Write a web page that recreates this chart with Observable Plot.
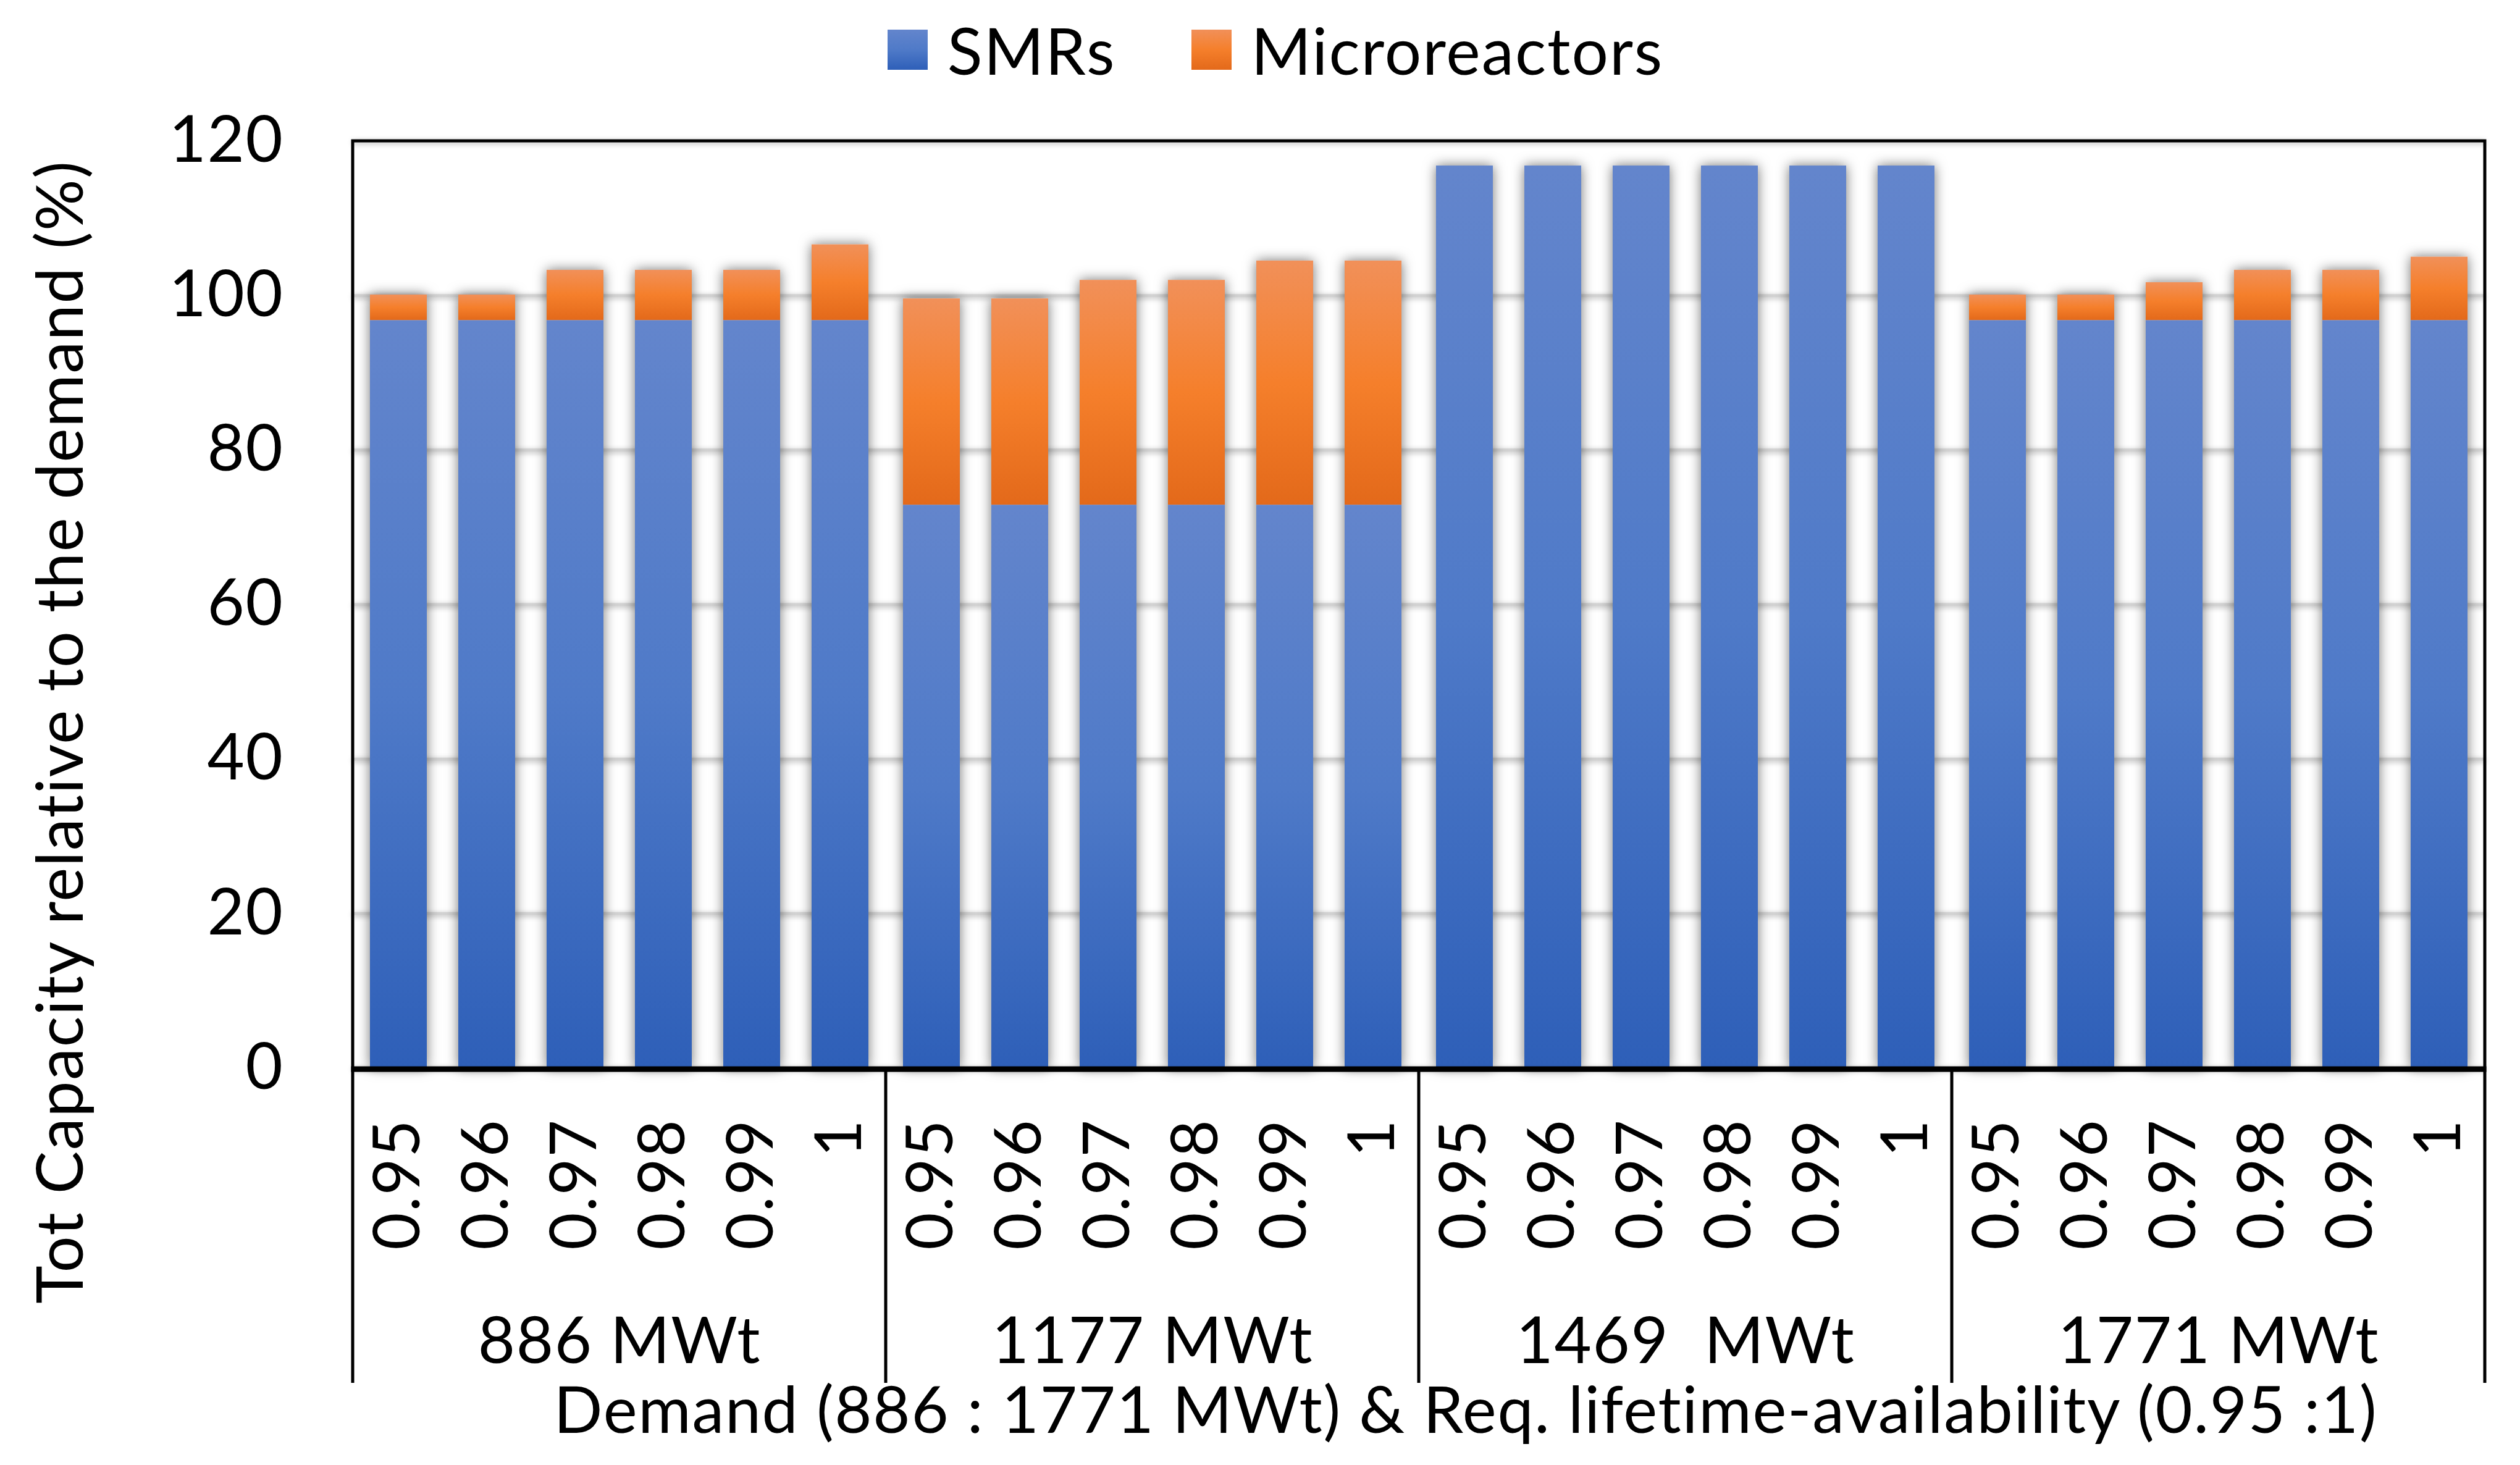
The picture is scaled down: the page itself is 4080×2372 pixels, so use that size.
<!DOCTYPE html>
<html>
<head>
<meta charset="utf-8">
<script src="https://cdn.jsdelivr.net/npm/d3@7"></script>
<script src="https://cdn.jsdelivr.net/npm/@observablehq/plot@0.6"></script>
<style>
  body { margin: 0; background: #fff; font-family: Lato, sans-serif; }
  #legend {
    height: 150px; box-sizing: border-box; padding-top: 10px; padding-left: 50px;
    display: flex; justify-content: center; align-items: center;
    font-size: 105px; letter-spacing: 2px; line-height: 1; color: #000;
  }
  #legend .sw { width: 65px; height: 65px; margin-right: 32px; }
  #legend .item { display: flex; align-items: center; margin-right: 122px; }
  #legend .item:last-child { margin-right: 0; }
  #chart svg text { letter-spacing: 1.7px; }
  g[aria-description="bar-shadow"] { filter: drop-shadow(0 0 10px rgba(0,0,0,0.55)); }
  g[aria-description="grid"] { filter: drop-shadow(0 2px 4px rgba(0,0,0,0.3)); }
</style>
</head>
<body>
<div id="legend">
  <div class="item"><div class="sw" style="background: linear-gradient(#6385cc, #4f7ac8, #2e5fb8)"></div><span>SMRs</span></div>
  <div class="item"><div class="sw" style="background: linear-gradient(#f19059, #f57f2b, #e3691a)"></div><span>Microreactors</span></div>
</div>
<div id="chart"></div>
<script>
// demand groups and required lifetime-availability under each
const demands = ["886 MWt", "1177 MWt", "1469\u00a0 MWt", "1771 MWt"]
const availability = ["0.95", "0.96", "0.97", "0.98", "0.99", "1"]

// total capacity relative to demand (%), one value per bar
const smrs = [
  96.8, 96.8, 96.8, 96.8, 96.8, 96.8,
  72.9, 72.9, 72.9, 72.9, 72.9, 72.9,
  116.8, 116.8, 116.8, 116.8, 116.8, 116.8,
  96.8, 96.8, 96.8, 96.8, 96.8, 96.8
]
const microreactors = [
  3.3, 3.3, 6.5, 6.5, 6.5, 9.8,
  26.7, 26.7, 29.1, 29.1, 31.6, 31.6,
  0, 0, 0, 0, 0, 0,
  3.3, 3.3, 4.9, 6.5, 6.5, 8.2
]
const yTicks = [0, 20, 40, 60, 80, 100, 120]

const rows = smrs.map((s, i) => {
  return {
    demand: demands[Math.floor(i / availability.length)],
    avail: availability[i % availability.length],
    smr: s,
    total: s + microreactors[i]
  }
})

let chart = Plot.plot({
  width: 4080,
  height: 2222,
  marginTop: 78,
  marginBottom: 643,
  marginLeft: 570,
  marginRight: 56,
  style: {fontFamily: "Lato, sans-serif", fontSize: "104px", color: "#000", background: "transparent"},
  fx: {domain: demands, padding: 0, label: null},
  x: {domain: availability, paddingInner: 0.36, paddingOuter: 0.18, label: null},
  y: {domain: [0, 120], label: null},
  marks: [
    Plot.ruleY(yTicks, {stroke: "#d2d2d2", strokeWidth: 5, ariaDescription: "grid"}),
    Plot.barY(rows, {fx: "demand", x: "avail", y1: 0, y2: "total", fill: "white", ariaDescription: "bar-shadow"}),
    Plot.barY(rows, {fx: "demand", x: "avail", y1: 0, y2: "smr", fill: "url(#grad-smr)"}),
    Plot.barY(rows, {fx: "demand", x: "avail", y1: "smr", y2: "total", fill: "url(#grad-micro)"}),
    Plot.axisY(yTicks, {tickSize: 0, tickPadding: 112, label: null}),
    Plot.axisX({tickRotate: -90, tickSize: 0, tickPadding: 82, label: null}),
    Plot.axisFx({anchor: "bottom", tickSize: 0, tickPadding: 404, label: null})
  ]
})

d3.select('#chart').append(() => chart)

// gradients like the spreadsheet bars
const svg = d3.select(chart)
svg.insert("defs", ":first-child").html(`
  <linearGradient id="grad-smr" x1="0" y1="0" x2="0" y2="1">
    <stop offset="0" stop-color="#6385cc"/><stop offset="0.5" stop-color="#4f7ac8"/><stop offset="1" stop-color="#2e5fb8"/>
  </linearGradient>
  <linearGradient id="grad-micro" x1="0" y1="0" x2="0" y2="1">
    <stop offset="0" stop-color="#f19059"/><stop offset="0.5" stop-color="#f57f2b"/><stop offset="1" stop-color="#e3691a"/>
  </linearGradient>`)

// frame, base line and group separators
const fx = chart.scale("fx"), y = chart.scale("y")
const left = fx.apply(demands[0])
const right = fx.apply(demands[demands.length - 1]) + fx.bandwidth
const y0 = y.apply(0), yTop = y.apply(120)
svg.append("path")
  .attr("d", `M${left},${y0}V${yTop}H${right}V${y0}`)
  .attr("fill", "none").attr("stroke", "#000").attr("stroke-width", 5)
svg.append("line")
  .attr("x1", left - 2.5).attr("x2", right + 2.5).attr("y1", y0 + 2).attr("y2", y0 + 2)
  .attr("stroke", "#000").attr("stroke-width", 9)
demands.map(d => fx.apply(d)).concat([right]).forEach(bx => {
  svg.append("line")
    .attr("x1", bx).attr("x2", bx).attr("y1", y0).attr("y2", 2089)
    .attr("stroke", "#000").attr("stroke-width", 5)
})

// axis titles
svg.append("text")
  .attr("transform", "translate(134,1035) rotate(-90)")
  .attr("text-anchor", "middle")
  .text("Tot Capacity relative to the demand (%)")
svg.append("text")
  .attr("x", 2373).attr("y", 2170)
  .attr("text-anchor", "middle")
  .text("Demand (886 : 1771 MWt) & Req. lifetime-availability (0.95 :1)")
</script>
</body>
</html>
